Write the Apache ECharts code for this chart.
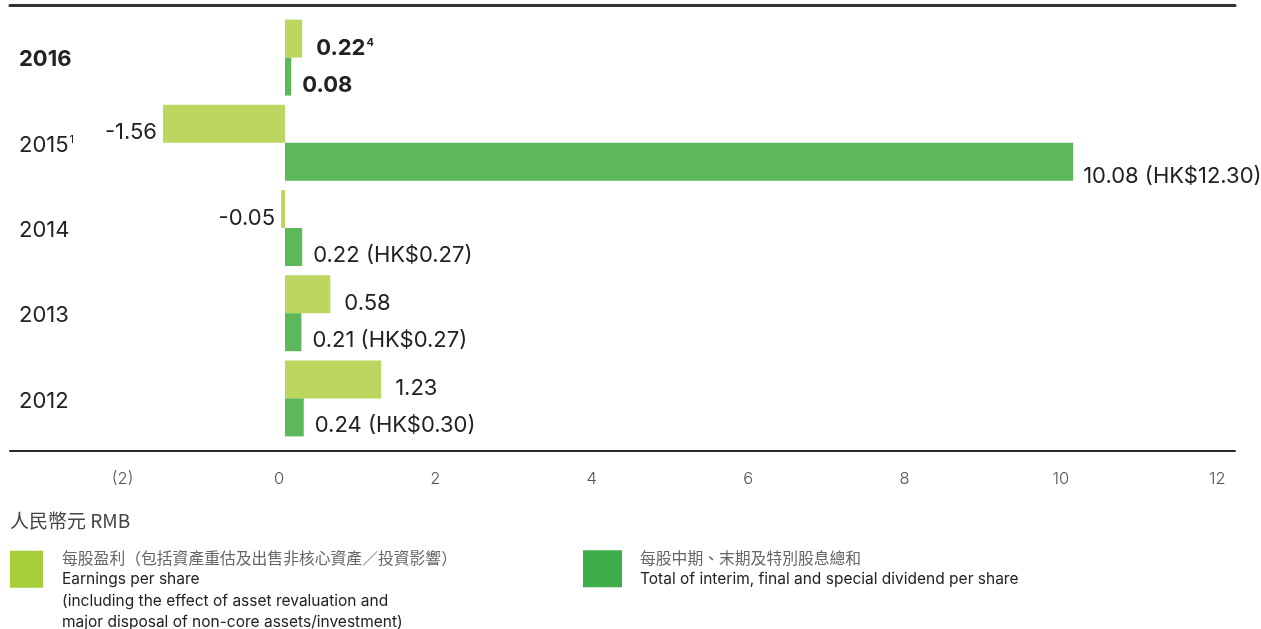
<!DOCTYPE html>
<html>
<head>
<meta charset="utf-8">
<script src="https://cdn.jsdelivr.net/npm/echarts@6/dist/echarts.min.js"></script>
<style>
html,body{margin:0;padding:0;background:#fff;}
#c{width:1261px;height:629px;}
</style>
</head>
<body>
<div id="c"></div>
<script>
const years = ['2016', '2015', '2014', '2013', '2012'];
const yearNotes = ['', '1', '', '', ''];
const boldRow = [true, false, false, false, false];
const eps = [0.22, -1.56, -0.05, 0.58, 1.23];
const epsNotes = ['4', '', '', '', ''];
const dividend = [0.08, 10.08, 0.22, 0.21, 0.24];
const dividendHKD = ['', '12.30', '0.27', '0.27', '0.30'];
const tickValues = [-2, 0, 2, 4, 6, 8, 10, 12];
const unitLabel = '人民幣元 RMB';
const epsName = '每股盈利（包括資產重估及出售非核心資產／投資影響）';
const epsLines = ['Earnings per share', '(including the effect of asset revaluation and', 'major disposal of non-core assets/investment)'];
const divName = '每股中期、末期及特別股息總和';
const divLines = ['Total of interim, final and special dividend per share'];

const FONT = 'Inter, Roboto, sans-serif';
const CJK = '"Noto Sans CJK TC", "Noto Sans CJK SC", sans-serif';

const labelRich = {
  n: {fontSize: 22, color: '#222', fontFamily: FONT},
  b: {fontSize: 22, color: '#222', fontWeight: 'bold', fontFamily: FONT},
  s: {fontSize: 11, color: '#222', fontWeight: 'bold', fontFamily: FONT, padding: [0, 0, 11, 1]}
};

const epsData = eps.map((v, i) => ({
  value: v,
  label: {
    position: v < 0 ? 'left' : 'right',
    distance: v < 0 ? 6 : 14,
    offset: [0, boldRow[i] ? 10 : 9],
    formatter: () => {
      const t = v.toFixed(2);
      if (boldRow[i]) return '{b|' + t + '}' + (epsNotes[i] ? '{s|' + epsNotes[i] + '}' : '');
      return '{n|' + t + '}';
    }
  }
}));

const divData = dividend.map((v, i) => ({
  value: v,
  label: {
    position: 'right',
    distance: v > 5 ? 10 : 11,
    offset: [0, v > 5 ? 15 : (boldRow[i] ? 9 : 8)],
    formatter: () => {
      const t = v.toFixed(2);
      if (boldRow[i]) return '{b|' + t + '}';
      return '{n|' + t + (dividendHKD[i] ? ' (HK$' + dividendHKD[i] + ')' : '') + '}';
    }
  }
}));

const xMin = -3.517, xMax = 12.15;

const chart = echarts.init(document.getElementById('c'), null, {renderer: 'canvas'});
chart.setOption({
  animation: false,
  backgroundColor: '#fff',
  grid: [
    {left: 10, right: 26, top: 15, bottom: 188},
    {left: 10, right: 26, top: 5, bottom: 178}
  ],
  xAxis: [
    {gridIndex: 0, type: 'value', min: xMin, max: xMax, show: false, splitLine: {show: false}},
    {gridIndex: 1, type: 'value', min: xMin, max: xMax, position: 'bottom',
      axisLine: {show: true, onZero: false, lineStyle: {color: '#2b2b2b', width: 2}},
      axisTick: {show: false}, splitLine: {show: false},
      axisLabel: {
        show: true, customValues: tickValues, margin: 20,
        color: '#555', fontSize: 16.5, fontWeight: 300, fontFamily: FONT, padding: [0, 12, 0, 0],
        formatter: v => v < 0 ? '(' + Math.abs(v) + ')' : String(v)
      }
    },
    {gridIndex: 1, type: 'value', min: xMin, max: xMax, position: 'top',
      axisLine: {show: true, onZero: false, lineStyle: {color: '#333', width: 3}},
      axisTick: {show: false}, axisLabel: {show: false}, splitLine: {show: false}
    }
  ],
  yAxis: [
    {gridIndex: 0, type: 'category', data: years, inverse: true,
      axisLine: {show: false}, axisTick: {show: false}, splitLine: {show: false},
      axisLabel: {
        inside: true, margin: 9,
        formatter: (v, i) => boldRow[i] ? '{yb|' + v + '}' : '{y|' + v + '}' + (yearNotes[i] ? '{ys|' + yearNotes[i] + '}' : ''),
        rich: {
          y: {fontSize: 22, color: '#222', fontFamily: FONT, padding: [5, 0, 0, 0]},
          yb: {fontSize: 22, color: '#222', fontWeight: 'bold', fontFamily: FONT, padding: [4, 0, 0, 0]},
          ys: {fontSize: 11, color: '#222', fontFamily: FONT, padding: [0, 0, 7, 1]}
        }
      }
    },
    {gridIndex: 1, type: 'value', show: false}
  ],
  legend: [
    {
      left: 10, top: 550, padding: 0, itemWidth: 33, itemHeight: 37, icon: 'rect',
      selectedMode: false,
      data: [{name: 'eps', itemStyle: {color: '#a6ce39'},
        textStyle: {padding: [42, 0, 0, 14]}}],
      formatter: () => '{cn|' + epsName + '}\n' + epsLines.map(l => '{en|' + l + '}').join('\n'),
      textStyle: {
        rich: {
          cn: {fontSize: 15.8, color: '#666', fontFamily: CJK, lineHeight: 22},
          en: {fontSize: 15.5, color: '#222', fontFamily: FONT, lineHeight: 21.5}
        }
      }
    },
    {
      left: 583, top: 550, padding: 0, itemWidth: 39, itemHeight: 37, icon: 'rect',
      selectedMode: false,
      data: [{name: 'div', itemStyle: {color: '#3dae4a'},
        textStyle: {padding: [0, 0, 0, 13]}}],
      formatter: () => '{cn|' + divName + '}\n' + divLines.map(l => '{en|' + l + '}').join('\n'),
      textStyle: {
        rich: {
          cn: {fontSize: 15.8, color: '#666', fontFamily: CJK, lineHeight: 22},
          en: {fontSize: 15.5, color: '#222', fontFamily: FONT, lineHeight: 21.5}
        }
      }
    }
  ],
  title: {
    text: unitLabel, left: 10, top: 511, padding: 0,
    textStyle: {fontSize: 19, fontWeight: 'normal', color: '#444', fontFamily: CJK}
  },
  series: [
    {name: 'eps', type: 'bar', xAxisIndex: 0, yAxisIndex: 0, data: epsData,
      barWidth: 38, barGap: '0%', itemStyle: {color: '#bdd660'},
      label: {show: true, rich: labelRich}},
    {name: 'div', type: 'bar', xAxisIndex: 0, yAxisIndex: 0, data: divData,
      barWidth: 38, barGap: '0%', itemStyle: {color: '#5db85b'},
      label: {show: true, rich: labelRich}}
  ]
});
</script>
</body>
</html>
